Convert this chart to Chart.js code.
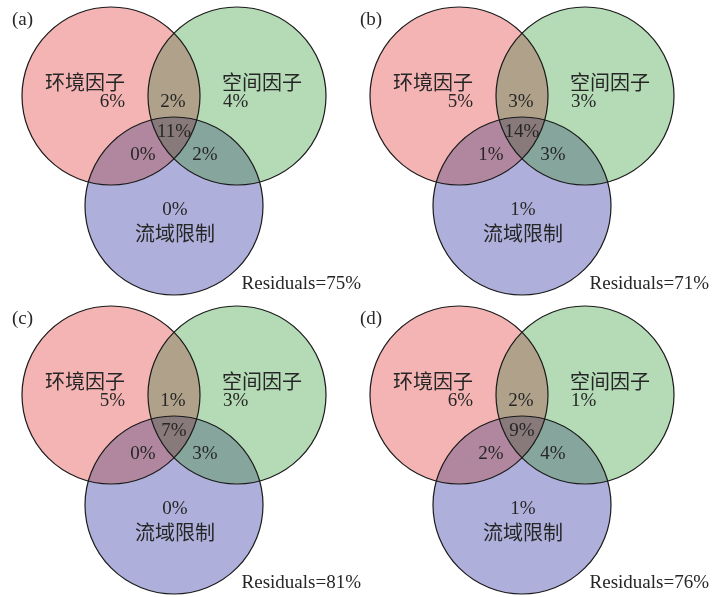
<!DOCTYPE html>
<html>
<head>
<meta charset="utf-8">
<script src="https://cdn.jsdelivr.net/npm/chart.js@4.4.0/dist/chart.umd.min.js"></script>
<style>
  html, body { margin: 0; padding: 0; background: #fff; }
  #wrap { position: relative; width: 712px; height: 597px; overflow: hidden; }
  .panel { position: absolute; width: 364px; height: 298px; }
</style>
</head>
<body>
<div id="wrap">
  <div class="panel" style="left:0;top:0"><canvas id="p0" width="364" height="298"></canvas></div>
  <div class="panel" style="left:348px;top:0"><canvas id="p1" width="364" height="298"></canvas></div>
  <div class="panel" style="left:0;top:299px"><canvas id="p2" width="364" height="298"></canvas></div>
  <div class="panel" style="left:348px;top:299px"><canvas id="p3" width="364" height="298"></canvas></div>
</div>
<script>
  "use strict";

  // --- data (percent of explained variation) ---
  const panelTags  = ["(a)", "(b)", "(c)", "(d)"];
  const setNames   = ["环境因子", "空间因子", "流域限制"];
  const envOnly    = [6, 5, 5, 6];
  const spaceOnly  = [4, 3, 3, 1];
  const basinOnly  = [0, 1, 0, 1];
  const envSpace   = [2, 3, 1, 2];
  const envBasin   = [0, 1, 0, 2];
  const spaceBasin = [2, 3, 3, 4];
  const allThree   = [11, 14, 7, 9];
  const residuals  = [75, 71, 81, 76];

  // --- layout (panel units = px) ---
  const W = 364, H = 298;
  const R = 89;
  const centers = [[111, 96], [237, 96], [174, 206]];   // env, space, basin
  const fills = ["#f4b4b4", "#b4dbb6", "#aeb0db"];
  const mix = { rg: "#b0a28a", rb: "#b0879f", gb: "#86a69d", rgb: "#88797b" };
  const TXT = "#262626";
  const LATIN = "19px 'Liberation Serif', 'Times New Roman', serif";
  const CJK = "20px 'Noto Sans CJK SC', 'Noto Sans CJK JP', sans-serif";

  const pct = v => v + "%";

  function circles(chart) {
    return [0, 1, 2].map(i => {
      const el = chart.getDatasetMeta(i).data[0];
      return { x: el.x, y: el.y, r: el.options.radius };
    });
  }

  function clipCircle(ctx, c) {
    ctx.beginPath();
    ctx.arc(c.x, c.y, c.r, 0, Math.PI * 2);
    ctx.clip();
  }

  const vennPlugin = {
    id: "venn",
    afterDatasetsDraw(chart) {
      const ctx = chart.ctx;
      const cs = circles(chart);
      const area = chart.chartArea;
      const paintOverlap = (ids, color) => {
        ctx.save();
        ids.forEach(i => clipCircle(ctx, cs[i]));
        ctx.fillStyle = color;
        ctx.fillRect(area.left, area.top, area.right - area.left, area.bottom - area.top);
        ctx.restore();
      };
      paintOverlap([0, 1], mix.rg);
      paintOverlap([0, 2], mix.rb);
      paintOverlap([1, 2], mix.gb);
      paintOverlap([0, 1, 2], mix.rgb);

      ctx.save();
      ctx.strokeStyle = "#1a1a1a";
      ctx.lineWidth = 1.2;
      cs.forEach(c => {
        ctx.beginPath();
        ctx.arc(c.x, c.y, c.r, 0, Math.PI * 2);
        ctx.stroke();
      });
      ctx.restore();

      // labels, placed through the scales
      const k = chart.$panel;
      const sx = chart.scales.x, sy = chart.scales.y;
      const put = (txt, x, y, align, font) => {
        ctx.font = font || LATIN;
        ctx.textAlign = align || "center";
        ctx.fillText(txt, sx.getPixelForValue(x), sy.getPixelForValue(y));
      };
      ctx.save();
      ctx.fillStyle = TXT;
      ctx.textBaseline = "middle";
      put(panelTags[k], 12, 20, "left");
      put(setNames[0], 85, 82, "center", CJK);
      put(pct(envOnly[k]), 125, 102, "right");
      put(setNames[1], 262, 82, "center", CJK);
      put(pct(spaceOnly[k]), 223, 102, "left");
      put(pct(envSpace[k]), 173, 102);
      put(pct(allThree[k]), 174, 132);
      put(pct(envBasin[k]), 143, 155);
      put(pct(spaceBasin[k]), 205, 155);
      put(pct(basinOnly[k]), 175, 210);
      put(setNames[2], 175, 233, "center", CJK);
      put("Residuals=" + pct(residuals[k]), 361, 284, "right");
      ctx.restore();
    }
  };

  function radiusPx(ctx) {
    const sx = ctx.chart.scales.x;
    const r = sx.getPixelForValue(R) - sx.getPixelForValue(0);
    return isFinite(r) && r > 0 ? r : R;
  }

  function drawPanel(k) {
    const chart = new Chart(document.getElementById("p" + k), {
      type: "scatter",
      data: {
        datasets: setNames.map((name, i) => ({
          label: name,
          data: [{ x: centers[i][0], y: centers[i][1] }],
          pointBackgroundColor: fills[i],
          pointBorderWidth: 0,
          pointRadius: radiusPx,
          clip: false
        }))
      },
      options: {
        responsive: false,
        animation: false,
        events: [],
        layout: { padding: 0, autoPadding: false },
        plugins: { legend: { display: false }, tooltip: { enabled: false } },
        scales: {
          x: { type: "linear", display: false, min: 0, max: W },
          y: { type: "linear", display: false, min: 0, max: H, reverse: true }
        }
      },
      plugins: [vennPlugin]
    });
    chart.$panel = k;
    chart.update();
  }

  panelTags.forEach((t, k) => drawPanel(k));
</script>
</body>
</html>
